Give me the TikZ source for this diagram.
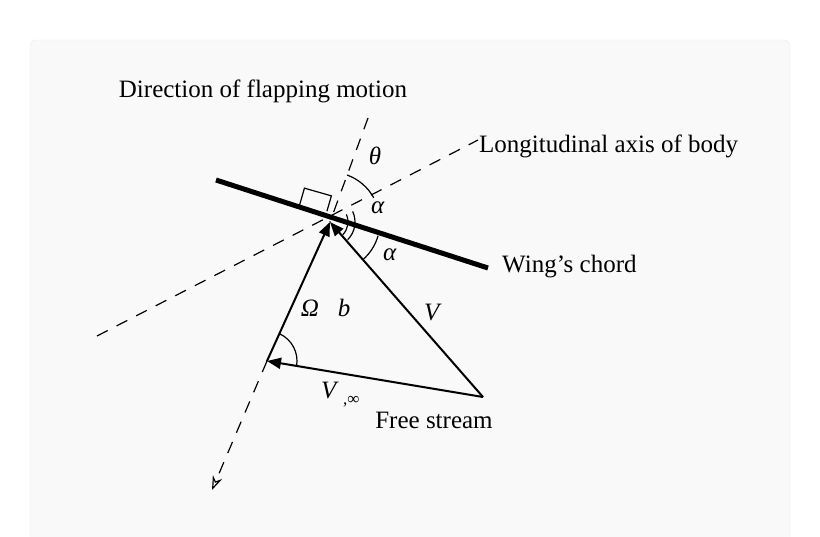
\documentclass[tikz,border=0pt]{standalone}
\usepackage{fontspec}
\setmainfont{Liberation Serif}
\usetikzlibrary{positioning,arrows.meta,calc}
\tikzset{
  lbl/.style={font=\fontsize{25}{29}\selectfont, inner sep=0pt},
  axis/.style={dashed, dash pattern=on 12pt off 10pt, line width=1.2pt},
  vec/.style={line width=2pt, -{Triangle[length=14pt,width=11pt]}},
  ang/.style={line width=1.2pt}
}
\begin{document}
\begin{tikzpicture}[x=1pt,y=-1pt]
    \useasboundingbox (0,0) rectangle (820,536);
    \fill[white] (0,0) rectangle (820,536);
    \draw[gray!15, fill=gray!5, rounded corners=6pt] (30,40) rectangle (790,560);
    % points
    \coordinate (C) at (330,222);
    \coordinate (T) at (267,361);
    \coordinate (F) at (483,397);
    \coordinate (fl1) at (368,118);
    \coordinate (fl2) at (212,490);
    \coordinate (la1) at (97,336);
    \coordinate (la2) at (478,140);
    \coordinate (ch1) at (216,180);
    \coordinate (ch2) at (488,268);
    % axes
    \draw[axis] (fl1) -- (C);
    \draw[axis, -{Stealth[length=14pt,width=10pt,open]}] (T) -- (fl2);
    \draw[axis] (la1) -- (la2);
    \draw[line width=5pt] (ch1) -- (ch2);
    % right angle mark
    \draw[ang] ($(C)!34pt!(ch1)$) ++(-74:3) -- ++(-74:20) -- ++(16:28)
      -- ++(-74:-16);
    % vectors
    \draw[vec] (T) -- (C);
    \draw[vec] (F) -- (C);
    \draw[vec] (F) -- (T);
    % angles (y flipped)
    \draw[ang] ($(C)+(-29:50)$) arc[start angle=-29, end angle=-70, radius=50];
    \draw[ang] ($(C)+(-25:18)$) arc[start angle=-25, end angle=45, radius=18];
    \draw[ang] ($(C)+(-25:25)$) arc[start angle=-25, end angle=45, radius=25];
    \draw[ang] ($(C)+(16:50)$) arc[start angle=16, end angle=49, radius=50];
    \draw[ang] ($(T)+(10:30)$) arc[start angle=10, end angle=-65, radius=30];
    % labels
    \node[lbl] (dir) at (263,91) {Direction of flapping motion};
    \node[lbl, anchor=west] (lon) at (479,146) {Longitudinal axis of body};
    \node[lbl, anchor=west] (wing) at (502,267) {Wing's chord};
    \node[lbl] (free) at (434,420) {Free stream};
    \node[lbl] (th) at (375,156) {\textit{θ}};
    \node[lbl] (a1) at (378,208) {\textit{α}};
    \node[lbl] (a2) at (390,255) {\textit{α}};
    \node[lbl] (om) at (310,308) {\textit{Ω}};
    \node[lbl] (bb) at (344,308) {\textit{b}};
    \node[lbl] (vv) at (433,313) {\textit{V}};
    \node[lbl, anchor=west] (vinf) at (321,395) {\textit{V}\,\raisebox{-6pt}{\fontsize{17}{19}\selectfont ,∞}};
\end{tikzpicture}
\end{document}
